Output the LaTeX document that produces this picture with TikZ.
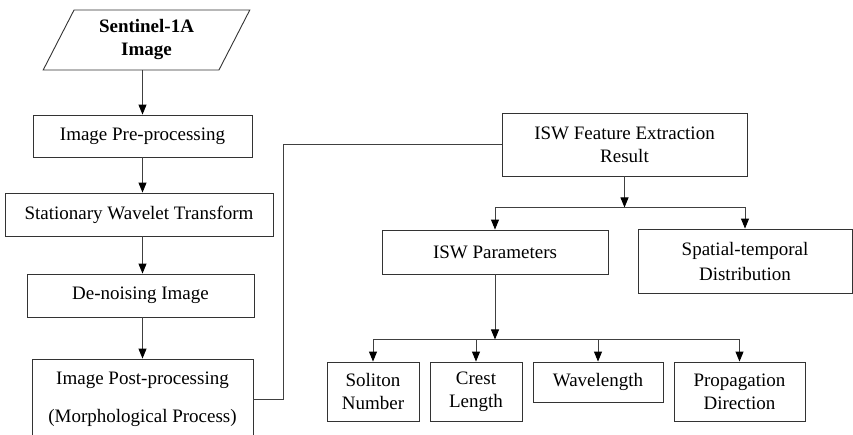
\documentclass[tikz,border=0pt]{standalone}
\usepackage{fontspec}
\setmainfont{Liberation Serif}
\usetikzlibrary{shapes,arrows.meta,positioning,calc}

\begin{document}
\begin{tikzpicture}[x=1pt, y=-1pt,
    every node/.style={font=\rmfamily\fontsize{19}{23}\selectfont, align=center, inner sep=0pt},
    box/.style={rectangle, draw=black!80, line width=0.9pt},
    link/.style={draw=black!75, line width=0.9pt},
    arr/.style={link, -{Triangle[length=10pt,width=8pt,color=black]}}]
\useasboundingbox (0,0) rectangle (853,434);
\clip (0,0) rectangle (853,434);

            % processing chain
            \node[trapezium, trapezium left angle=63.4, trapezium right angle=116.6, trapezium stretches=true, draw=black!80, line width=0.9pt, minimum width=207pt, minimum height=60pt] (img) at (146.5,40) {\textbf{Sentinel-1A}\\\textbf{Image}};
            \node[box, minimum width=219pt, minimum height=42pt] (pre) at (142.5,136) {Image Pre-processing};
            \node[box, minimum width=268pt, minimum height=43pt] (swt) at (139,214.5) {Stationary Wavelet Transform};
            \node[box, minimum width=227pt, minimum height=43pt] (den) at (140.5,295.5) {De-noising Image};
            \node[box, minimum width=221pt, minimum height=80pt] (post) at (142.5,399) {Image Post-processing\\[15pt](Morphological Process)};

            % results
            \node[box, minimum width=245pt, minimum height=63pt] (feat) at (624.5,144.5) {ISW Feature Extraction\\Result};
            \node[box, minimum width=226pt, minimum height=44pt] (par) at (495,252) {ISW Parameters};
            \node[box, minimum width=214pt, minimum height=64pt] (spat) at (745,261) {Spatial-temporal\\[2pt]Distribution};
            \node[box, minimum width=92pt, minimum height=59pt] (sol) at (373,391.5) {Soliton\\Number};
            \node[box, minimum width=92pt, minimum height=59pt] (crest) at (476,391.5) {Crest\\Length};
            \node[box, minimum width=130pt, minimum height=40pt] (wave) at (598,382) {Wavelength};
            \node[box, minimum width=131pt, minimum height=59pt] (prop) at (739.5,391.5) {Propagation\\Direction};

            \draw[arr] (img.south -| pre.north) -- (pre.north);
            \draw[arr] (pre.south) -- (pre.south |- swt.north);
            \draw[arr] (swt.south -| pre.south) -- (den.north -| pre.south);
            \draw[arr] (den.south -| pre.south) -- (post.north -| pre.south);
            \draw[link] (post.east) -- ++(30,0) |- (feat.west);

            \coordinate (j1) at ($(feat.south)+(0,31)$);
            \draw[arr] (feat.south) -- (j1);
            \draw[arr] (j1) -| (par.north);
            \draw[arr] (j1) -| (spat.north);

            \coordinate (j2) at ($(par.south)+(0,65)$);
            \draw[arr] (par.south) -- (j2);
            \foreach \n in {sol,crest,wave,prop}
                \draw[arr] (j2) -| (\n.north);
\end{tikzpicture}
\end{document}
